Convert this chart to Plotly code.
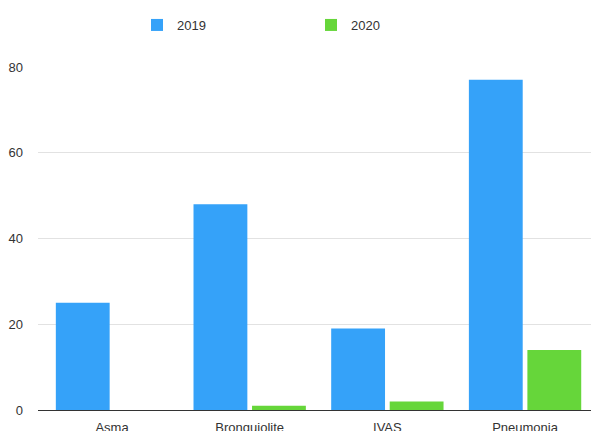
import plotly.graph_objects as go

categories = ["Asma", "Bronquiolite", "IVAS", "Pneumonia"]
values_2019 = [25, 48, 19, 77]
values_2020 = [0, 1, 2, 14]
y_ticks = [0, 20, 40, 60, 80]

xpos = list(range(len(categories)))

fig = go.Figure()
fig.add_trace(go.Bar(name="2019", x=xpos, y=values_2019, marker_color="#35A2F9", marker_line_width=0))
fig.add_trace(go.Bar(name="2020", x=xpos, y=values_2020, marker_color="#66D63A", marker_line_width=0))

fig.update_layout(
    width=591, height=431,
    margin=dict(l=38, r=0, t=67, b=21, autoexpand=False),
    paper_bgcolor="white", plot_bgcolor="white",
    barmode="group", bargap=0.15, bargroupgap=0.08,
    font=dict(family="Liberation Sans, Arial, sans-serif", size=13, color="#333333"),
    showlegend=True,
    legend=dict(orientation="h", xref="container", yref="container",
                x=137/591, y=1 - 10/431, xanchor="left", yanchor="top",
                entrywidth=129, entrywidthmode="pixels",
                font=dict(size=13, color="#333333"), bgcolor="rgba(0,0,0,0)"),
)
fig.update_xaxes(
    tickmode="array", tickvals=xpos, ticktext=categories,
    range=[-0.5375, 3.479], showgrid=False, zeroline=False,
    showline=True, linecolor="#333333", linewidth=1,
    ticks="", ticklabelstandoff=5, automargin=False,
)
fig.update_yaxes(
    range=[0, 80], tickmode="array", tickvals=y_ticks,
    showgrid=True, gridcolor="#e2e2e2", gridwidth=1,
    zeroline=False, showline=False, ticks="", ticklabelstandoff=14,
    automargin=False,
)

fig.write_html("out.html")
